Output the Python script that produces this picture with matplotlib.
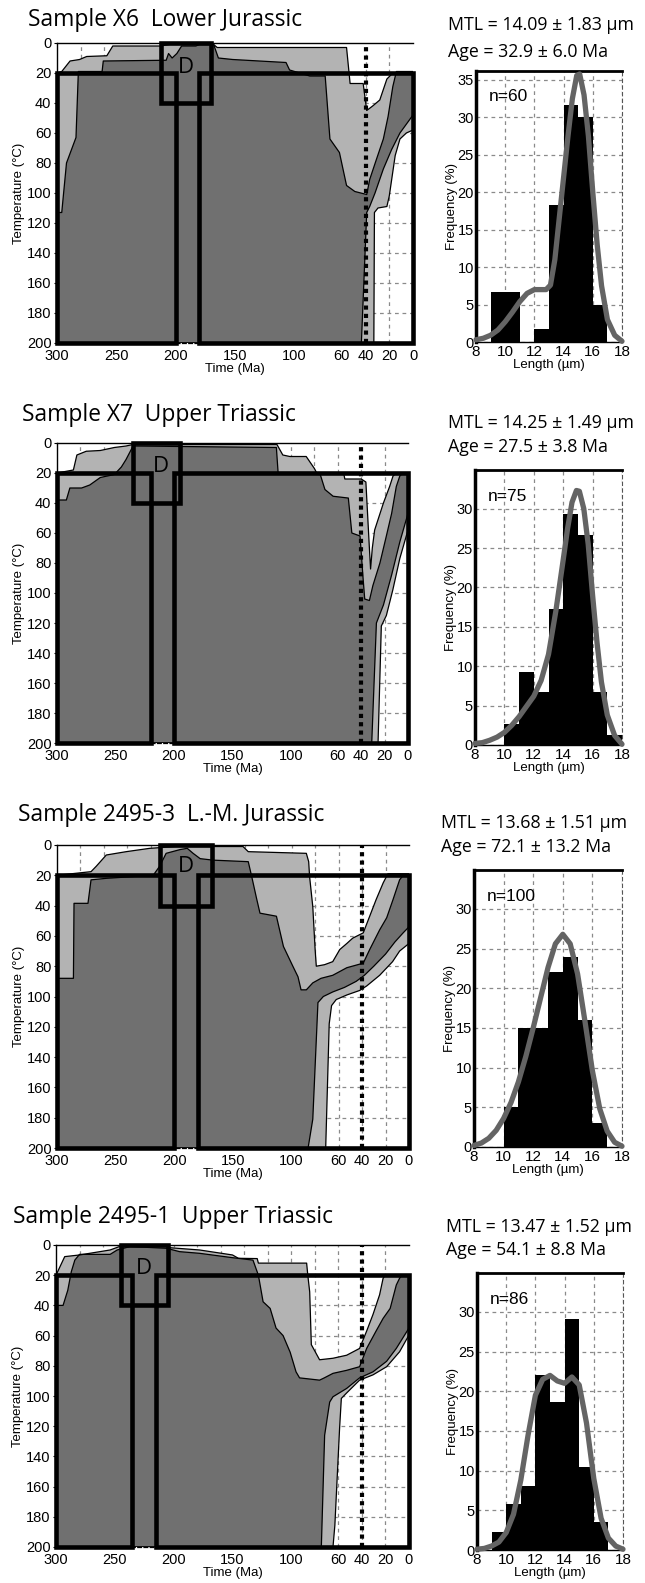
import numpy as np
import matplotlib
matplotlib.use("Agg")
import matplotlib.pyplot as plt
from matplotlib.patches import Rectangle

### ----------------------------- ###
### Thermal history envelopes     ###
### (time Ma, temperature degC)   ###
### ----------------------------- ###

### Sample X6
x6_acc_top = [(300, 20), (296, 19), (289, 12), (281, 11), (275, 9), (258, 8.5), (253, 2), (213, 2),
              (205, 1), (168, 1), (165, 3), (56, 3), (53, 27), (42, 27), (39, 45), (34, 42), (28, 38),
              (22, 24), (17, 20), (0, 20)]
x6_acc_bot = [(300, 200), (33, 200), (32.5, 113), (29.5, 110), (22, 109), (20, 102), (15, 75),
              (11, 64), (5.6, 60), (0, 58)]
x6_good_top = [(300, 113), (296, 113), (292, 80), (284, 63), (282, 19), (262, 19), (261, 12),
               (208, 11.5), (206, 7), (203, 10), (199, 7), (195, 2), (183, 2), (180, 1), (168, 1),
               (164, 10), (152, 11), (107, 13), (104, 18), (87, 22), (74, 22), (70, 64), (62, 73),
               (59, 84), (56, 95), (49, 99), (39, 101), (36.5, 91), (31, 78), (25, 64), (21, 49),
               (17, 29), (14, 19), (0, 19)]
x6_good_bot = [(300, 200), (43.5, 200), (39, 113), (36.5, 109), (32, 100), (25, 84), (18, 71),
               (11, 60), (0, 48)]

### Sample X7
x7_acc_top = [(300, 20), (286, 18), (283, 8), (275, 5.5), (263, 5), (251, 3), (241, 2), (235, 1),
              (112, 1), (107, 8), (101, 9), (87, 9), (80, 17), (78, 20), (55, 20), (54, 24), (40, 24),
              (36, 26), (33, 70), (32, 84), (30.5, 70), (28.5, 58), (21, 40), (15.7, 29), (12.8, 22),
              (10, 20), (0, 20)]
x7_acc_bot = [(300, 200), (25.6, 200), (22.8, 122), (18.5, 115), (13, 98), (7, 77), (0, 58)]
x7_good_top = [(300, 38), (292, 38), (289, 30), (279, 30), (272, 28), (263, 23), (251, 21), (245, 16),
               (241, 11), (235, 2), (112.5, 3), (111, 20), (75, 21), (71, 31), (64, 35.5), (51, 36.7),
               (48, 60), (41, 62), (38.5, 89), (37, 104), (33, 105), (30, 95), (24, 80), (18.5, 62),
               (14, 47), (10, 29), (7, 22), (4.5, 20), (0, 20)]
x7_good_bot = [(300, 200), (31, 200), (27, 120), (21, 108), (14, 88), (7, 66), (0, 47)]

### Sample 2495-3
s3_acc_top = [(300, 20), (271, 17.6), (266.5, 14), (258, 6.6), (241, 4.4), (221, 2.2), (198, 1),
              (141.5, 1), (137, 4.4), (87.5, 5.5), (85.5, 11), (84.7, 21), (82, 40.7), (80, 69),
              (79, 80), (72, 79), (65, 77), (59, 69), (53, 65), (48, 61.5), (39, 58), (33.5, 47),
              (28, 36), (22, 25), (18, 19), (0, 19)]
s3_acc_bot = [(300, 200), (71, 200), (68, 118), (66, 106), (62, 102), (53, 99), (42, 96), (36, 93),
              (25, 86), (14, 77), (8, 70), (0, 65)]
s3_good_top = [(300, 88), (286, 88), (285.5, 38.5), (273.6, 38.5), (271, 23), (258, 22), (218, 20),
               (212.5, 14), (207, 5.5), (195, 3), (189, 2.2), (184, 5.5), (178, 9), (167, 10),
               (137, 11), (134, 21), (130, 35), (127, 45), (113, 47), (107, 67), (99, 80), (94.6, 87),
               (92, 95.6), (87.5, 95.6), (82, 91), (75, 88), (65, 86), (53, 81), (39, 78), (33.5, 69),
               (25, 56), (19, 48), (13.6, 36), (8, 23), (5, 20), (0, 20)]
s3_good_bot = [(300, 200), (86, 200), (82, 181), (77.6, 104), (73, 100), (65, 97), (55, 94), (45, 90),
               (38, 86), (30, 80), (20, 72), (12, 64), (5, 58), (0, 54)]

### Sample 2495-1
s1_acc_top = [(300, 20), (292.6, 7.7), (280, 6.6), (254, 3.3), (246, 1), (206, 1), (203, 1.8),
              (178, 3.3), (150, 6.6), (145, 8.8), (129, 9), (128, 12), (87, 12), (86, 20), (84.4, 31),
              (83, 66), (76, 76), (64.6, 75), (53, 73), (42, 68.5), (36, 57), (30.6, 46), (25, 33),
              (22, 22), (20, 20), (0, 20)]
s1_acc_bot = [(300, 200), (64.6, 200), (63, 185.6), (59, 121.5), (57.5, 101.6), (53, 98), (42, 89.5),
              (30.6, 86), (19, 80.6), (8, 70.7), (0, 59.6)]
s1_good_top = [(300, 40), (294, 40), (290, 30), (287, 17.7), (284, 10), (280, 6.2), (254, 6.2),
               (248, 3.3), (237, 1), (206, 2.2), (195, 4.4), (178, 5.5), (150, 8.4), (132.6, 10),
               (128, 20), (124, 37.6), (118, 42), (113, 55), (107, 60), (101, 71), (96, 84), (93, 88),
               (76, 89.5), (72, 88), (64.6, 85), (53, 83), (42, 80.6), (36, 68.5), (28, 57),
               (22, 48.6), (16, 42), (10.8, 26.5), (8, 22), (6, 20), (0, 20)]
s1_good_bot = [(300, 200), (74.5, 200), (71.7, 126), (67.4, 104), (64.6, 100.5), (53, 95), (42, 88),
               (30.6, 84), (19, 77), (10.8, 68.5), (0, 55)]

### Constraint boxes (t_old, t_young, T_top, T_bottom)
x6_boxes = [(300, 200, 20, 200), (180, 0, 20, 200), (212, 170, 0, 40)]
x7_boxes = [(300, 220, 20, 200), (200, 0, 20, 200), (235, 195, 0, 40)]
s3_boxes = [(300, 200, 20, 200), (180, 0, 20, 200), (212, 168, 0, 40)]
s1_boxes = [(300, 235, 20, 200), (215, 0, 20, 200), (245, 205, 0, 40)]
d_labels = [(191, 16.5), (211, 15.5), (190, 14), (225.5, 15.5)]

titles = ["Sample X6  Lower Jurassic", "Sample X7  Upper Triassic",
          "Sample 2495-3  L.-M. Jurassic", "Sample 2495-1  Upper Triassic"]

### ----------------------------- ###
### Track length distributions    ###
### ----------------------------- ###
bin_left = [8, 9, 10, 11, 12, 13, 14, 15, 16, 17]
x6_freq = [0, 6.7, 6.7, 0, 1.7, 18.3, 31.7, 30.0, 5.0, 0]
x7_freq = [0, 0, 2.7, 9.3, 6.7, 17.3, 29.3, 26.7, 6.7, 1.3]
s3_freq = [0, 0, 5, 15, 15, 22, 24, 16, 3, 0]
s1_freq = [0, 2.3, 5.8, 8.1, 22.1, 18.6, 29.1, 10.5, 3.5, 0]

x6_curve_len = [8, 8.5, 9, 9.5, 10, 10.5, 11, 11.5, 12, 12.5, 12.8, 13.1, 13.4, 13.7, 14, 14.3, 14.6,
                14.9, 15.1, 15.4, 15.7, 16, 16.3, 16.6, 17, 17.5, 18]
x6_curve_f = [0.3, 0.5, 0.9, 1.6, 2.7, 4.0, 5.4, 6.5, 7.0, 7.0, 7.0, 7.6, 11, 16.5, 22, 27.5, 32.5,
              35.6, 35.8, 33, 27.5, 20, 13, 7.5, 3, 0.9, 0.1]
x7_curve_len = [8, 8.5, 9, 9.5, 10, 10.5, 11, 11.5, 12, 12.5, 13, 13.5, 14, 14.3, 14.6, 14.9, 15.1,
                15.4, 15.7, 16, 16.3, 16.6, 17, 17.5, 18]
x7_curve_f = [0.2, 0.3, 0.6, 1.0, 1.6, 2.5, 3.6, 4.9, 6.2, 8.2, 11.5, 17, 23.5, 27.5, 30.8, 32.3, 32.2,
              30, 25.5, 19, 13, 8, 3.8, 1.2, 0.1]
s3_curve_len = [8, 8.5, 9, 9.5, 10, 10.5, 11, 11.5, 12, 12.5, 13, 13.5, 14, 14.5, 15, 15.5, 16, 16.5,
                17, 17.5, 18]
s3_curve_f = [0.2, 0.5, 1.1, 2.1, 3.6, 5.6, 8.2, 11.4, 15, 18.8, 22.6, 25.6, 26.8, 25.6, 21.8, 15.8,
              9.6, 4.8, 2.0, 0.6, 0.1]
s1_curve_len = [8, 8.5, 9, 9.5, 10, 10.5, 11, 11.5, 12, 12.5, 13, 13.5, 14, 14.5, 15, 15.5, 16, 16.5,
                17, 17.5, 18]
s1_curve_f = [0.1, 0.2, 0.5, 1.0, 2.2, 4.5, 8.8, 14.5, 19.5, 21.5, 22, 21.3, 21, 21.8, 20.8, 16,
              9, 4, 1.5, 0.5, 0.1]

n_labels = ["n=60", "n=75", "n=100", "n=86"]
mtl_labels = ["MTL = 14.09 ± 1.83 µm", "MTL = 14.25 ± 1.49 µm",
              "MTL = 13.68 ± 1.51 µm", "MTL = 13.47 ± 1.52 µm"]
age_labels = ["Age = 32.9 ± 6.0 Ma", "Age = 27.5 ± 3.8 Ma",
              "Age = 72.1 ± 13.2 Ma", "Age = 54.1 ± 8.8 Ma"]

### ----------------------------- ###
### Layout (pixel boxes)          ###
### ----------------------------- ###
W, H = 645, 1583
tt_pix = [(57, 413, 43, 343), (57, 408, 443, 743), (57, 409, 845, 1148), (56, 409, 1245, 1547)]
hist_pix = [(476, 622, 71, 342), (475, 622, 470, 745), (474, 622, 870, 1147), (477, 623, 1273, 1550)]
title_pix = [(28, 20), (22, 415), (18, 815), (13, 1217)]
mtl_pix = [(448, 25, 52), (448, 423, 447), (441, 823, 847), (446, 1227, 1250)]
hist_top = [36.2, 34.9, 34.9, 34.9]

LIGHT = "#b3b3b3"
DARK = "#707070"
SANS = ["Open Sans", "DejaVu Sans"]
ARIAL = ["Liberation Sans", "DejaVu Sans"]


def rect(x0, x1, y0, y1):
    return [x0 / W, 1 - y1 / H, (x1 - x0) / W, (y1 - y0) / H]


def envelope(ax, top, bot, color):
    top = np.array(top, dtype=float)
    bot = np.array(bot, dtype=float)
    poly_t = np.concatenate([top[:, 0], bot[::-1, 0]])
    poly_T = np.concatenate([top[:, 1], bot[::-1, 1]])
    ax.fill(poly_t, poly_T, color=color, lw=0, zorder=2)
    ax.plot(top[:, 0], top[:, 1], color="black", lw=0.9, zorder=3)
    ax.plot(bot[:, 0], bot[:, 1], color="black", lw=0.9, zorder=3)


def tt_panel(ax, acc_top, acc_bot, good_top, good_bot, boxes, d_pos):
    ### Grid
    for g in np.arange(20, 300, 20):
        ax.axvline(g, color="#8a8a8a", lw=0.9, ls=(0, (3, 3)), zorder=1)
    for g in np.arange(20, 200, 20):
        ax.axhline(g, color="#8a8a8a", lw=0.9, ls=(0, (3, 3)), zorder=1)

    ### Envelopes
    envelope(ax, acc_top, acc_bot, LIGHT)
    envelope(ax, good_top, good_bot, DARK)

    ### 40 Ma marker
    ax.axvline(40, color="black", lw=3, ls=(0, (1, 1)), zorder=4)

    ### Constraint boxes
    for t0, t1, T0, T1 in boxes:
        ax.add_patch(Rectangle((t1, T0), t0 - t1, T1 - T0, fill=False, ec="black",
                               lw=3.3, zorder=5, clip_on=False))
    ax.text(d_pos[0], d_pos[1], "D", family=SANS, fontsize=16, ha="center", va="center", zorder=6)

    ### Decorate
    ax.set_xlim(300, 0)
    ax.set_ylim(200, 0)
    ax.set_xticks([300, 250, 200, 150, 100, 60, 40, 20, 0])
    ax.set_yticks(np.arange(0, 201, 20))
    ax.tick_params(axis="x", length=0, pad=4.5, labelsize=10.5)
    ax.tick_params(axis="y", length=2.5, width=0.8, pad=1.5, labelsize=10.5)
    for lab in ax.get_xticklabels() + ax.get_yticklabels():
        lab.set_family(ARIAL)
    ax.set_xlabel("Time (Ma)", family=ARIAL, fontsize=9.5, labelpad=0)
    ax.set_ylabel("Temperature (°C)", family=ARIAL, fontsize=9.5, labelpad=1)
    for side in ["top", "left"]:
        ax.spines[side].set_linewidth(1.0)
    ax.spines["bottom"].set_linestyle((0, (3, 2)))
    ax.spines["bottom"].set_linewidth(0.9)
    ax.spines["right"].set_visible(False)


def hist_panel(ax, freq, curve_len, curve_f, n_label, ytop):
    ax.set_axisbelow(True)
    ax.bar(bin_left, freq, width=1, align="edge", color="black", lw=0, zorder=2)
    ax.plot(curve_len, curve_f, color="#646464", lw=3.8, solid_capstyle="round",
            solid_joinstyle="round", zorder=3, clip_on=False)
    ax.set_xlim(8, 18)
    ax.set_ylim(0, ytop)
    ax.set_xticks([8, 10, 12, 14, 16, 18])
    ax.set_yticks(np.arange(0, ytop, 5))
    ax.grid(True, color="#8a8a8a", lw=0.9, ls=(0, (3, 3)))
    ax.tick_params(axis="x", length=0, pad=2, labelsize=11)
    ax.tick_params(axis="y", length=0, pad=1.5, labelsize=10.5)
    for lab in ax.get_xticklabels() + ax.get_yticklabels():
        lab.set_family(ARIAL)
    ax.set_xlabel("Length (µm)", family=ARIAL, fontsize=9.5, labelpad=0)
    ax.set_ylabel("Frequency (%)", family=ARIAL, fontsize=9.5, labelpad=0)
    ax.text(0.085, 0.905, n_label, transform=ax.transAxes, family=ARIAL, fontsize=12.5,
            va="center", ha="left")
    ax.spines["left"].set_linewidth(2.5)
    ax.spines["top"].set_linewidth(2.0)
    ax.spines["right"].set_linestyle((0, (3, 3)))
    ax.spines["right"].set_color("#555555")
    ax.spines["bottom"].set_linewidth(1.0)


fig = plt.figure(figsize=(W / 100, H / 100), dpi=100)

tt_data = [
    (x6_acc_top, x6_acc_bot, x6_good_top, x6_good_bot, x6_boxes),
    (x7_acc_top, x7_acc_bot, x7_good_top, x7_good_bot, x7_boxes),
    (s3_acc_top, s3_acc_bot, s3_good_top, s3_good_bot, s3_boxes),
    (s1_acc_top, s1_acc_bot, s1_good_top, s1_good_bot, s1_boxes),
]
hist_data = [
    (x6_freq, x6_curve_len, x6_curve_f),
    (x7_freq, x7_curve_len, x7_curve_f),
    (s3_freq, s3_curve_len, s3_curve_f),
    (s1_freq, s1_curve_len, s1_curve_f),
]

for i in range(4):
    ax = fig.add_axes(rect(*tt_pix[i]))
    acc_top, acc_bot, good_top, good_bot, boxes = tt_data[i]
    tt_panel(ax, acc_top, acc_bot, good_top, good_bot, boxes, d_labels[i])

    hx = fig.add_axes(rect(*hist_pix[i]))
    freq, cl, cf = hist_data[i]
    hist_panel(hx, freq, cl, cf, n_labels[i], hist_top[i])

    tx, ty = title_pix[i]
    fig.text(tx / W, 1 - ty / H, titles[i], family=SANS, fontsize=16.4, va="center", ha="left")
    mx, my1, my2 = mtl_pix[i]
    fig.text(mx / W, 1 - my1 / H, mtl_labels[i], family=SANS, fontsize=12.8, va="center", ha="left")
    fig.text(mx / W, 1 - my2 / H, age_labels[i], family=SANS, fontsize=12.8, va="center", ha="left")

fig.savefig("out.png", dpi=100)
